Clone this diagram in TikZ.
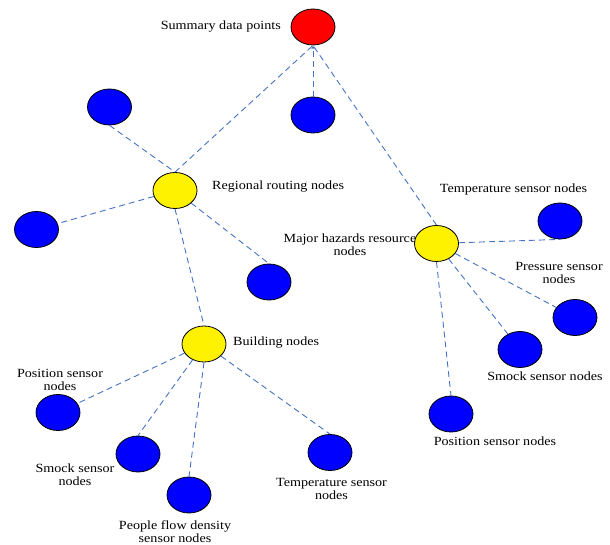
\documentclass[tikz,border=0pt]{standalone}
\usepackage{fontspec}
\setmainfont{Liberation Serif}
\newfontfamily\lblfont[FakeStretch=1.13]{Liberation Serif}
\usetikzlibrary{arrows.meta,shapes.geometric}
\definecolor{linkblue}{RGB}{68,114,196}
\tikzset{
  dot/.style={ellipse, draw=black, line width=0.8pt, minimum width=44pt, minimum height=36pt, inner sep=0pt},
  sink/.style={dot, fill=red},
  hub/.style={dot, fill=yellow},
  sensor/.style={dot, fill=blue},
  link/.style={draw=linkblue, line width=0.9pt, dash pattern=on 6pt off 4pt},
  txt/.style={font=\lblfont\fontsize{12.5}{13}\selectfont, inner sep=0pt, align=center, text=black}
}
\begin{document}
\begin{tikzpicture}[x=1pt, y=-1pt]
\useasboundingbox (0,0) rectangle (610,545);

% top collector
\node[sink] (sum) at (313,27) {};
\node[txt, anchor=east] (sumL) at (281,27) {Summary data points};

% regional routing branch
\node[hub] (reg) at (175,190.5) {};
\node[txt, anchor=west] (regL) at (212,187) {Regional routing nodes};
\node[sensor] (r1) at (109.5,107) {};
\node[sensor] (r2) at (313,115) {};
\node[sensor] (r3) at (36.5,229.5) {};
\node[sensor] (r4) at (269,282) {};

% building branch
\node[hub] (bld) at (204,344) {};
\node[txt, anchor=west] (bldL) at (233,343) {Building nodes};
\node[sensor] (b1) at (58,412.5) {};
\node[sensor] (b2) at (138,454) {};
\node[sensor] (b3) at (189,495) {};
\node[sensor] (b4) at (330,452.5) {};
\node[txt] (b1L) at (60,380) {Position sensor\\nodes};
\node[txt] (b2L) at (75,474.5) {Smock sensor\\nodes};
\node[txt] (b3L) at (175,531.5) {People flow density\\sensor nodes};
\node[txt] (b4L) at (331.5,488.5) {Temperature sensor\\nodes};

% major hazards branch
\node[hub] (maj) at (436.5,243.5) {};
\node[txt] (majL) at (350,244.5) {Major hazards resource\\nodes};
\node[sensor] (m1) at (560,221) {};
\node[sensor] (m2) at (575,317.5) {};
\node[sensor] (m3) at (520,349.5) {};
\node[sensor] (m4) at (451,414) {};
\node[txt] (m1L) at (513.5,189) {Temperature sensor nodes};
\node[txt] (m2L) at (559,272.5) {Pressure sensor\\nodes};
\node[txt] (m3L) at (545,376) {Smock sensor nodes};
\node[txt] (m4L) at (495,441) {Position sensor nodes};

% connectors
\draw[link] (reg.north) -- (sum.south);
\draw[link, -{Stealth[length=4pt, width=3.5pt]}] (r2) -- (sum.south);
\draw[link] (maj.north) -- (sum.south);

\draw[link] (r1.south) -- (reg.north);
\draw[link] (reg) -- (r3);
\draw[link] (reg) -- (r4.north);
\draw[link] (reg.south) -- (bld.north);

\draw[link] (bld) -- (b1);
\draw[link] (bld) -- (b2.north);
\draw[link] (bld.south) -- (b3.north);
\draw[link] (bld) -- (b4.north);

\draw[link] (maj) -- (m1.south);
\draw[link] (maj) -- (m2);
\draw[link] (maj) -- (m3);
\draw[link] (maj.south) -- (m4.north);
\end{tikzpicture}
\end{document}
